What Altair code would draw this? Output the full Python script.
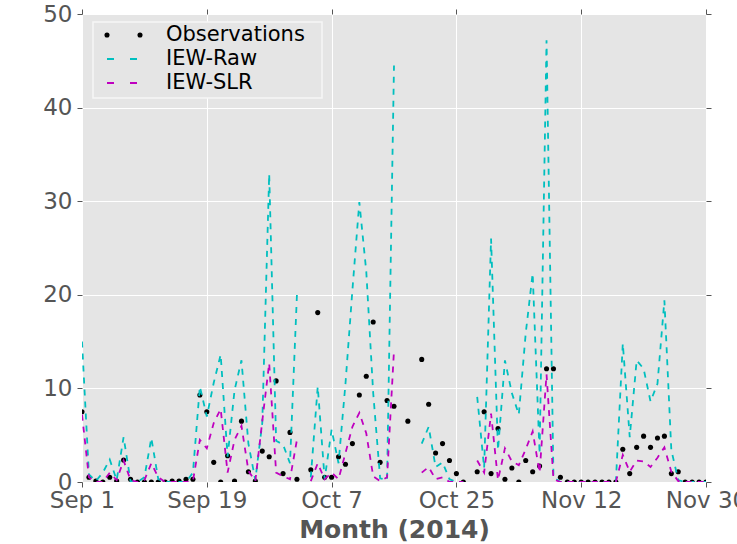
import altair as alt
import pandas as pd

N = None

# Daily dates, 2014-09-01 .. 2014-11-30
dates = pd.date_range("2014-09-01", periods=91, freq="D").strftime("%Y-%m-%dT00:00:00").tolist()

observations = [
    7.5, 0.5, 0.1, 0.0, 0.5, 0.1, 2.35, 0.3, 0.0, 0.0,
    0.0, 0.0, 0.0, 0.1, 0.1, 0.3, 0.3, 9.3, 7.5, 2.1,
    0.0, 2.8, 0.1, 6.5, 1.1, 0.1, 3.3, 2.7, 10.8, 0.9,
    5.3, 0.3, N, 1.3, 18.1, 0.5, 0.5, 2.7, 1.9, 4.1,
    9.3, 11.3, 17.1, 2.1, 8.7, 8.1, N, 6.5, N, 13.1,
    8.3, 3.1, 4.1, 2.3, 0.9, 0.0, N, 1.1, 7.5, 0.9,
    5.7, 0.3, 1.5, 0.0, 2.3, 1.1, 1.7, 12.1, 12.1, 0.5,
    0.0, 0.0, 0.0, 0.0, 0.0, 0.0, 0.0, 0.0, 3.5, 0.9,
    3.7, 4.9, 3.7, 4.7, 4.9, 0.9, 1.1, 0.0, 0.0, 0.0,
    0.0,
]

iew_raw = [
    15.0, 0.8, 0.1, 1.0, 2.4, 0.2, 4.8, 0.1, 0.0, 0.5,
    4.7, 0.3, 0.0, 0.0, 0.0, 0.0, 1.0, 10.2, 7.0, 10.6,
    13.6, 2.7, 9.8, 13.0, 4.1, 0.2, 6.3, 32.9, 4.4, 4.0,
    2.0, 20.0, N, 0.5, 10.2, 0.3, 5.6, 2.0, 10.5, 20.5,
    29.9, 22.5, 9.5, 0.4, 0.2, 44.5, N, N, N, 4.1,
    5.9, 1.6, 2.1, 0.3, 0.0, 0.0, N, 9.1, 1.5, 26.0,
    3.4, 13.0, 9.5, 7.2, 15.9, 22.3, 3.0, 47.2, 0.5, 0.0,
    0.0, 0.0, 0.0, 0.0, 0.0, 0.0, 0.0, 0.0, 14.8, 4.8,
    13.0, 12.1, 8.6, 10.5, 19.4, 3.4, 0.2, 0.0, 0.0, 0.0,
    0.0,
]

iew_slr = [
    7.2, 0.5, 0.0, 0.0, 1.0, 0.2, 2.3, 0.2, 0.0, 0.2,
    2.0, 0.5, 0.0, 0.0, 0.0, 0.0, 0.1, 4.5, 3.6, 6.3,
    7.8, 1.0, 4.5, 6.0, 1.2, 0.1, 6.5, 12.7, 1.0, 0.6,
    0.3, 4.5, N, 0.1, 2.0, 0.3, 1.0, 0.3, 3.1, 5.9,
    7.4, 5.2, 0.6, 0.1, 0.5, 14.1, N, N, N, 1.0,
    1.6, 0.3, 0.5, 0.0, 0.0, 0.0, N, 2.3, 1.0, 7.3,
    0.2, 3.6, 2.2, 1.8, 3.5, 5.4, 1.0, 11.5, 0.3, 0.0,
    0.0, 0.0, 0.0, 0.0, 0.0, 0.0, 0.0, 0.0, 2.9, 1.1,
    2.3, 2.2, 1.6, 2.6, 3.7, 1.1, 0.1, 0.0, 0.0, 0.0,
    0.0,
]

series_names = ["Observations", "IEW-Raw", "IEW-SLR"]
series_colors = ["#000000", "#00BFBF", "#BF00BF"]
x_tick_dates = [(2014, 9, 1), (2014, 9, 19), (2014, 10, 7), (2014, 10, 25), (2014, 11, 12), (2014, 11, 30)]
y_ticks = [0, 10, 20, 30, 40, 50]

FONT = "DejaVu Sans"
GRAY = "#555555"

obs_df = pd.DataFrame({"date": dates, "value": observations})
lines_df = pd.concat([
    pd.DataFrame({"date": dates, "value": iew_raw, "series": series_names[1]}),
    pd.DataFrame({"date": dates, "value": iew_slr, "series": series_names[2]}),
], ignore_index=True)

tick_vals = [alt.DateTime(year=y, month=m, date=d) for (y, m, d) in x_tick_dates]
x_scale = alt.Scale(domain=[tick_vals[0], tick_vals[-1]], nice=False)
y_scale = alt.Scale(domain=[0, 50], nice=False, zero=False)

x_main = alt.X(
    "date:T", scale=x_scale,
    axis=alt.Axis(values=tick_vals, format="%b %-d", labelFont=FONT, labelFontSize=23,
                  labelColor=GRAY, tickColor=GRAY, tickSize=5, domain=False,
                  grid=True, gridColor="white", gridWidth=1, labelPadding=2,
                  labelOverlap=False, labelFlush=False,
                  title="Month (2014)", titleFont=FONT, titleFontSize=25,
                  titleFontWeight="bold", titleColor=GRAY, titlePadding=5),
)
y_main = alt.Y(
    "value:Q", scale=y_scale,
    axis=alt.Axis(values=y_ticks, labelFont=FONT, labelFontSize=23, labelColor=GRAY,
                  tickColor=GRAY, tickSize=5, domain=False, grid=True,
                  gridColor="white", gridWidth=1, labelPadding=5, title=None,
                  labelFlush=False),
)

points = alt.Chart(obs_df).mark_circle(size=26, color="black", opacity=1, clip=True).encode(
    x=x_main, y=y_main
)

lines = alt.Chart(lines_df).mark_line(
    strokeDash=[6, 6], strokeWidth=1.8, clip=True, invalid="break-paths-show-domains"
).encode(
    x=alt.X("date:T", scale=x_scale, axis=None),
    y=alt.Y("value:Q", scale=y_scale, axis=None),
    color=alt.Color("series:N", scale=alt.Scale(domain=series_names[1:], range=series_colors[1:]), legend=None),
)

mirror = alt.Chart(obs_df).mark_point(opacity=0).encode(
    x=alt.X("date:T", scale=x_scale,
            axis=alt.Axis(orient="top", values=tick_vals, labels=False, ticks=True, tickSize=5,
                          tickColor=GRAY, domain=False, grid=False, title=None)),
    y=alt.Y("value:Q", scale=y_scale,
            axis=alt.Axis(orient="right", values=y_ticks, labels=False, ticks=True, tickSize=5,
                          tickColor=GRAY, domain=False, grid=False, title=None)),
)

# Legend (drawn manually inside the plot area)
one = pd.DataFrame({"k": [0]})
legend_box = alt.Chart(one).mark_rect(fill="#E5E5E5", stroke="#F6F6F6", strokeWidth=1.5).encode(
    x=alt.value(11), x2=alt.value(240), y=alt.value(8), y2=alt.value(84)
)
leg_dot1 = alt.Chart(one).mark_circle(size=26, color="black", opacity=1).encode(x=alt.value(25), y=alt.value(21))
leg_dot2 = alt.Chart(one).mark_circle(size=26, color="black", opacity=1).encode(x=alt.value(58), y=alt.value(21))
leg_raw = alt.Chart(one).mark_rule(color=series_colors[1], strokeDash=[7, 16], strokeWidth=1.8).encode(
    x=alt.value(25), x2=alt.value(56), y=alt.value(45))
leg_slr = alt.Chart(one).mark_rule(color=series_colors[2], strokeDash=[7, 16], strokeWidth=1.8).encode(
    x=alt.value(25), x2=alt.value(56), y=alt.value(69))

def leg_text(label, ypix):
    return alt.Chart(pd.DataFrame({"label": [label]})).mark_text(
        align="left", baseline="middle", font=FONT, fontSize=21, color="black"
    ).encode(x=alt.value(84), y=alt.value(ypix), text="label:N")

chart = alt.layer(
    points, lines, mirror,
    legend_box, leg_dot1, leg_dot2, leg_raw, leg_slr,
    leg_text(series_names[0], 21), leg_text(series_names[1], 45), leg_text(series_names[2], 69),
).resolve_axis(x="independent", y="independent").properties(
    width=624, height=468,
    background="white",
    autosize=alt.AutoSizeParams(type="none"),
    padding={"left": 82, "top": 14, "right": 31, "bottom": 62},
).configure_view(fill="#E5E5E5", strokeWidth=0)

chart.save("out.html", embed_options={"renderer": "svg", "actions": False})
